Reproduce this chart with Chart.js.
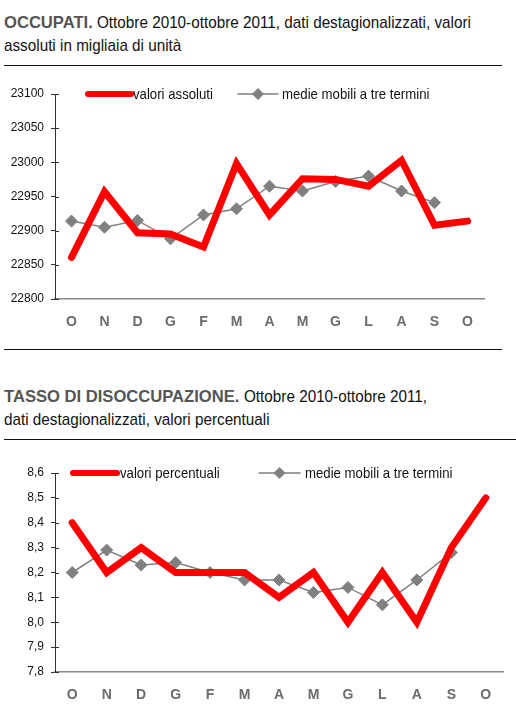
<!DOCTYPE html>
<html lang="it">
<head>
    <meta charset="UTF-8">
    <title>Occupati e disoccupazione</title>
    <script src="https://cdn.jsdelivr.net/npm/chart.js"></script>
    <style>
        body {
            margin: 0;
            width: 516px;
            height: 714px;
            position: relative;
            background: #fff;
            overflow: hidden;
        }
        .title {
            position: absolute;
            left: 4px;
            width: 512px;
            white-space: nowrap;
            font-family: "Liberation Sans", Arial, sans-serif;
            font-size: 16.6px;
            line-height: 23px;
            color: #111;
        }
        .title b {
            color: #555;
        }
        /* testo stretto (simula Arial Narrow) */
        .title .n {
            display: inline-block;
            transform: scaleX(0.92);
            transform-origin: 0 0;
        }
        .rule {
            position: absolute;
            left: 4px;
            height: 0;
            border-top: 1px solid #111;
        }
        .box {
            position: absolute;
            left: 0;
            width: 516px;
        }
    </style>
</head>
<body>
    <div class="title" style="top:11px">
        <div><b>OCCUPATI.</b> <span class="n">Ottobre 2010-ottobre 2011, dati destagionalizzati, valori</span></div>
        <div><span class="n">assoluti in migliaia di unità</span></div>
    </div>
    <div class="rule" style="top:65px;width:498px"></div>
    <div class="box" style="top:70px;height:275px"><canvas id="chartOccupati" width="516" height="275"></canvas></div>

    <div class="rule" style="top:349px;width:498px"></div>
    <div class="title" style="top:385px">
        <div><b>TASSO DI DISOCCUPAZIONE.</b> <span class="n">Ottobre 2010-ottobre 2011,</span></div>
        <div><span class="n">dati destagionalizzati, valori percentuali</span></div>
    </div>
    <div class="rule" style="top:439px;width:512px"></div>
    <div class="box" style="top:445px;height:269px"><canvas id="chartDisoccupazione" width="516" height="269"></canvas></div>

    <script>
        // mesi da ottobre 2010 a ottobre 2011
        const mesi = ['O', 'N', 'D', 'G', 'F', 'M', 'A', 'M', 'G', 'L', 'A', 'S', 'O'];

        // occupati, migliaia
        const occupatiValori = [22861, 22957, 22897, 22895, 22876, 22998, 22923, 22976, 22975, 22965, 23003, 22908, 22914];
        const occupatiMedie = [22914, 22905, 22915, 22888, 22923, 22932, 22965, 22958, 22972, 22980, 22958, 22941, null];
        const occupatiTicks = { min: 22800, max: 23100, step: 50 };

        // tasso di disoccupazione, %
        const tassoValori = [8.4, 8.2, 8.3, 8.2, 8.2, 8.2, 8.1, 8.2, 8.0, 8.2, 8.0, 8.3, 8.5];
        const tassoMedie = [8.2, 8.29, 8.23, 8.24, 8.2, 8.17, 8.17, 8.12, 8.14, 8.07, 8.17, 8.28, null];
        const tassoTicks = { min: 7.8, max: 8.6, step: 0.1 };

        const ROSSO = '#ff0000';
        const GRIGIO = '#808080';
        const sans = '"Liberation Sans", Arial, sans-serif';

        // legenda disegnata dentro l'area del grafico + tacche interne dell'asse y
        const legendaInterna = {
            id: 'legendaInterna',
            afterDraw(chart, args, opts) {
                const ctx = chart.ctx;
                const yAxis = chart.scales.y;
                const area = chart.chartArea;

                ctx.save();
                ctx.strokeStyle = '#333';
                ctx.lineWidth = 1;
                yAxis.ticks.forEach((t, i) => {
                    const py = Math.round(yAxis.getPixelForTick(i)) + 0.5;
                    ctx.beginPath();
                    ctx.moveTo(area.left, py);
                    ctx.lineTo(area.left + 4, py);
                    ctx.stroke();
                });

                const y = area.top + opts.dy;
                chart.data.datasets.forEach((ds, i) => {
                    const it = opts.items[i];
                    ctx.beginPath();
                    ctx.strokeStyle = ds.borderColor;
                    ctx.lineWidth = it.lw;
                    ctx.lineCap = 'round';
                    ctx.moveTo(it.x, y);
                    ctx.lineTo(it.x + it.w, y);
                    ctx.stroke();
                    if (ds.pointRadius > 0) {
                        const cx = it.x + it.w / 2;
                        const r = ds.pointRadius;
                        ctx.beginPath();
                        ctx.fillStyle = ds.pointBackgroundColor;
                        ctx.moveTo(cx, y - r);
                        ctx.lineTo(cx + r, y);
                        ctx.lineTo(cx, y + r);
                        ctx.lineTo(cx - r, y);
                        ctx.closePath();
                        ctx.fill();
                    }
                    // testo stretto, come nell'originale
                    ctx.save();
                    ctx.translate(it.x + it.w + it.gap, y + 1);
                    ctx.scale(0.88, 1);
                    ctx.font = '15px ' + sans;
                    ctx.fillStyle = '#111';
                    ctx.textBaseline = 'middle';
                    ctx.fillText(ds.label, 0, 0);
                    ctx.restore();
                });
                ctx.restore();
            }
        };

        function creaGrafico(id, valori, medie, labelValori, tk, fmt, pad, legenda) {
            return new Chart(document.getElementById(id), {
                type: 'line',
                data: {
                    labels: mesi,
                    datasets: [
                        {
                            label: labelValori,
                            data: valori,
                            borderColor: ROSSO,
                            borderWidth: 7,
                            borderCapStyle: 'round',
                            pointRadius: 0,
                            tension: 0
                        },
                        {
                            label: 'medie mobili a tre termini',
                            data: medie,
                            borderColor: GRIGIO,
                            borderWidth: 1.5,
                            pointStyle: 'rectRot',
                            pointRadius: 6,
                            pointBackgroundColor: GRIGIO,
                            pointBorderColor: GRIGIO,
                            pointBorderWidth: 1,
                            tension: 0
                        }
                    ]
                },
                options: {
                    responsive: false,
                    animation: false,
                    layout: { padding: pad },
                    plugins: {
                        legend: { display: false },
                        tooltip: { enabled: false },
                        legendaInterna: legenda
                    },
                    scales: {
                        x: {
                            offset: true,
                            grid: { display: false, drawTicks: false },
                            border: { display: true, color: '#888', width: 1.5 },
                            ticks: {
                                padding: 15,
                                color: '#6b6b6b',
                                font: { family: sans, size: 14, weight: 'bold' }
                            },
                            afterFit: s => { s.height = 40; }
                        },
                        y: {
                            min: tk.min,
                            max: tk.max,
                            grid: { display: true, drawOnChartArea: false, drawTicks: true, tickLength: 4, color: '#333' },
                            border: { display: true, color: '#333', width: 1 },
                            ticks: {
                                stepSize: tk.step,
                                padding: 7,
                                color: '#111',
                                font: { family: sans, size: 12 },
                                callback: v => fmt(v)
                            },
                            afterFit: s => { s.width = 55; }
                        }
                    }
                },
                plugins: [legendaInterna]
            });
        }

        creaGrafico('chartOccupati', occupatiValori, occupatiMedie, 'valori assoluti', occupatiTicks,
            v => String(Math.round(v)),
            { left: 0, right: 32, top: 24, bottom: 6 },
            { dy: 0, items: [{ x: 88, w: 43, gap: 2, lw: 6 }, { x: 238, w: 40, gap: 4, lw: 1.5 }] });

        creaGrafico('chartDisoccupazione', tassoValori, tassoMedie, 'valori percentuali', tassoTicks,
            v => v.toFixed(1).replace('.', ','),
            { left: 0, right: 13, top: 28, bottom: 2 },
            { dy: 0, items: [{ x: 73, w: 44, gap: 3, lw: 6 }, { x: 259, w: 41, gap: 5, lw: 1.5 }] });
    </script>
</body>
</html>
